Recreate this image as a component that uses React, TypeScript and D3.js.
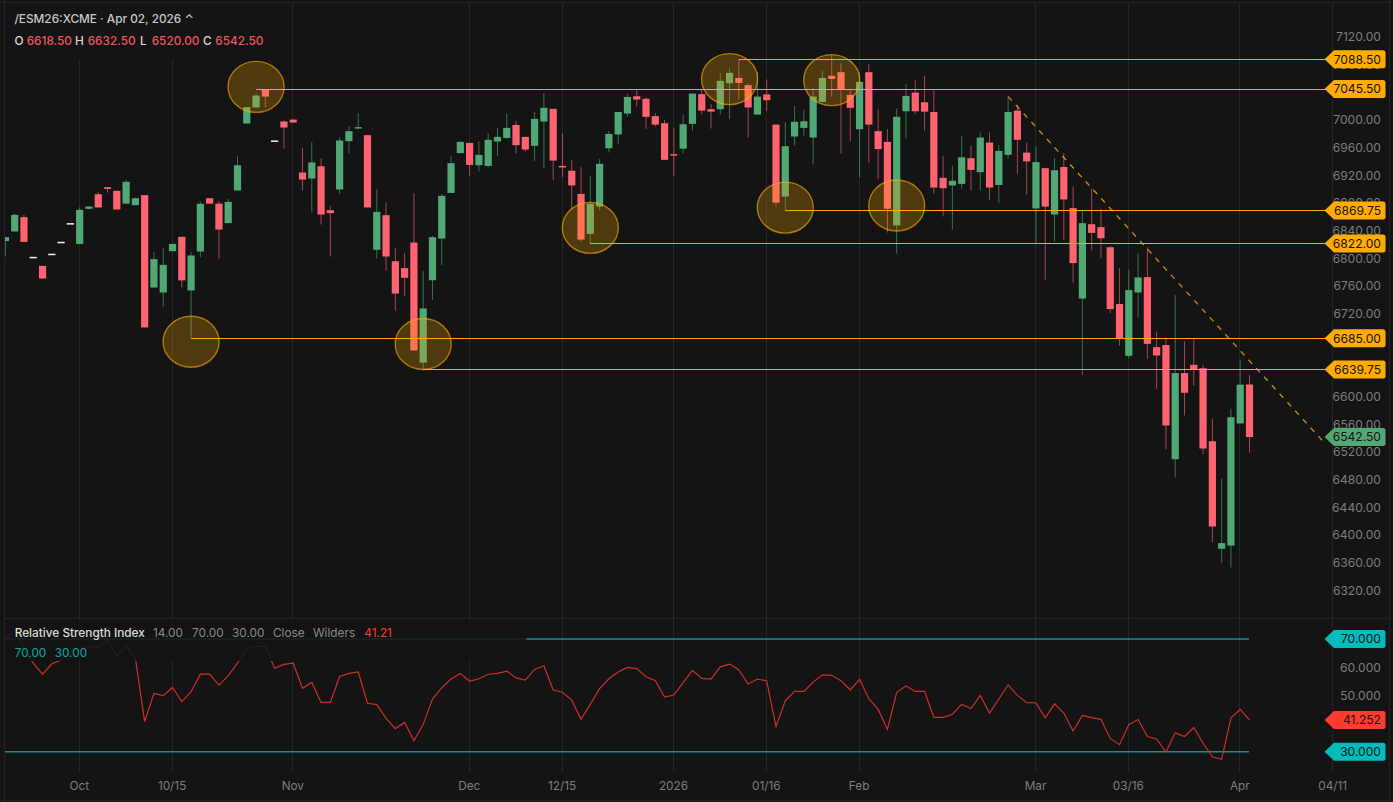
import * as d3 from "d3";

const WIDTH = 1393;
const HEIGHT = 802;

const opens = [
  6825.75, 6839.75, 6860.5, 6802, 6790, 6806.5, 6823.75, 6850.75, 6821.75, 6872.5,
  6893.5, 6903.75, 6898.5, 6880, 6877.75, 6892.25, 6758.75, 6751.5, 6811.25, 6832,
  6754.5, 6810.75, 6887.75, 6880, 6851.75, 6899, 6995.75, 7019, 7045, 6970.25,
  6998.75, 7001.5, 6925, 6916.25, 6934, 6870.5, 6900.5, 6970.25, 6988.5, 6979,
  6813.25, 6863.25, 6796.75, 6786.75, 6823.75, 6650.25, 6769.25, 6829.5, 6895.5, 6953,
  6967.75, 6935.5, 6934.5, 6969.75, 6975, 6993.75, 6976.5, 6963.5, 6998.75, 7017,
  6934.5, 6927.5, 6894, 6836.25, 6875.75, 6960, 6980, 7010.25, 7035.25, 7031.5,
  7006.5, 6996.25, 6951.5, 6959.5, 6995.25, 7038.25, 7016.5, 7016.5, 7054, 7061.75,
  7051.25, 7008.75, 7037.75, 6994.25, 6890.25, 6977, 6989.5, 6975.5, 7027, 7064.75,
  7070, 7037.25, 6987.5, 7070, 6984.75, 6969.25, 6848.5, 7013.5, 7040.5, 7026.5,
  7012.5, 6917.25, 6906.25, 6908.5, 6945.75, 6925.5, 6968.25, 6907, 6950.5, 7014.5,
  6953.75, 6873, 6931.25, 6864.25, 6933, 6873.5, 6742.75, 6850.25, 6846, 6817,
  6735, 6660, 6751.5, 6773.75, 6672.5, 6675.5, 6510.5, 6635, 6647, 6642,
  6536.5, 6381, 6385.75, 6562.25, 6618.5,
];
const highs = [
  6831.5, 6865.25, 6863.75, 6802, 6790, 6806.5, 6823.75, 6850.75, 6874.75, 6875.75,
  6896.5, 6903.75, 6898.5, 6914, 6888.75, 6892.25, 6809.75, 6815.5, 6821.75, 6832,
  6809.75, 6883, 6887.75, 6884, 6886.5, 6949, 7019.5, 7039.5, 7045.5, 6970.25,
  7000, 7001.5, 6961, 6968.75, 6945.75, 6876.75, 6976, 6992, 7010.75, 6979,
  6901, 6882, 6815.5, 6808.5, 6895, 6782.75, 6833.5, 6894, 6949, 6970.25,
  6967.75, 6970.25, 6981.75, 6989, 7010.75, 6999, 6976.5, 7013, 7040, 7017,
  6981.75, 6942.75, 6932.75, 6920.5, 6944.25, 6984.75, 7012.5, 7038.25, 7044.5, 7033.75,
  7010.75, 7001, 6989.5, 7008.25, 7039, 7044.5, 7023.75, 7068.5, 7075.75, 7088.5,
  7054, 7070, 7059.5, 6994.25, 6997.75, 7021.25, 7015.5, 7047.75, 7071.5, 7095,
  7083, 7044.5, 7070, 7081.5, 7016.5, 6988, 7017.5, 7052.5, 7058, 7064.75,
  7044.5, 6949, 6934.5, 6977.5, 6963.5, 6982.75, 6983.25, 6964.5, 7034.75, 7022.75,
  6967.75, 6962.5, 6932.25, 6945.75, 6953, 6904.75, 6869, 6901.75, 6872.5, 6819,
  6786.75, 6784.25, 6808.5, 6817, 6695, 6685.5, 6747.75, 6680.75, 6684, 6647,
  6569, 6482.25, 6583.5, 6654.25, 6632.5,
];
const lows = [
  6803.5, 6839.75, 6824.25, 6802, 6771.75, 6806.5, 6823.75, 6850.75, 6821.75, 6871.5,
  6874.5, 6896, 6871.5, 6880, 6877.75, 6701, 6758.75, 6730.75, 6811.25, 6758.75,
  6685, 6802.5, 6880, 6799.75, 6851.75, 6899, 6995.75, 7019, 7019, 6970.25,
  6959.5, 6997.25, 6899, 6867, 6849.75, 6803.5, 6894, 6952.5, 6988.5, 6874.5,
  6800.5, 6783.25, 6725.5, 6746.25, 6667.75, 6639.75, 6741, 6791.5, 6895.5, 6953,
  6920.5, 6926.5, 6932.25, 6948.5, 6974, 6952.5, 6955.25, 6941.75, 6931.75, 6913.5,
  6918.75, 6871, 6825.25, 6822, 6871, 6954, 6965.5, 7006, 7020.25, 6988,
  6991.5, 6943.25, 6920, 6952.5, 6985.75, 7009.25, 6988.5, 7008.75, 7002, 7030,
  6975.5, 7008.75, 7014, 6875.75, 6869.75, 6964, 6978.5, 6936.5, 7027, 7034.75,
  6952, 6970.25, 6917.75, 6939, 6915.25, 6838.25, 6807.5, 6974.5, 7009.25, 6985.75,
  6894.5, 6861.5, 6842.5, 6901.75, 6899.5, 6899, 6885.5, 6880.5, 6945.25, 6923,
  6892.75, 6821.5, 6769.75, 6825.25, 6827.5, 6766, 6632.5, 6812.25, 6800.75, 6721.75,
  6674.5, 6656.5, 6715.5, 6655.25, 6612.25, 6525, 6484.5, 6573.75, 6617, 6517.5,
  6390.25, 6360.25, 6354, 6562.25, 6520,
];
const closes = [
  6831.5, 6863.75, 6824.75, 6802, 6771.75, 6806.5, 6823.75, 6850.75, 6871, 6875.75,
  6874.5, 6901.25, 6871.5, 6911.5, 6887.75, 6701, 6799.75, 6791.5, 6821.75, 6769,
  6805, 6879.75, 6880, 6842.5, 6882.5, 6935.5, 7019.5, 7036.25, 7034.75, 6970.25,
  6990, 6997.25, 6914.75, 6939.5, 6864.25, 6866.25, 6971.25, 6984.75, 6990.5, 6874.5,
  6868, 6803.5, 6750, 6772.75, 6667.75, 6728.5, 6831.5, 6891.25, 6938.5, 6969.25,
  6936, 6950.5, 6972.25, 6976.5, 6989.5, 6964.5, 6958.25, 7002.5, 7018.5, 6942.25,
  6932.25, 6906.25, 6828, 6879.75, 6937.5, 6980.75, 7012.5, 7034.25, 7030.5, 7005.5,
  6994.25, 6943.25, 6949.5, 6994.75, 7039, 7014.5, 7013, 7057.5, 7069, 7054.5,
  7019, 7034.75, 7029.5, 6881.5, 6963, 6998.25, 6999, 7034.75, 7061.75, 7060.25,
  7045.5, 7018.5, 7056, 6994.25, 6958.75, 6872.5, 7005.5, 7035.75, 7013.5, 7013,
  6903.25, 6902.25, 6913, 6947, 6928.75, 6975.5, 6903.25, 6956.25, 7012.5, 6972.25,
  6941, 6940, 6875.75, 6928.25, 6886, 6794, 6851.75, 6837.75, 6830, 6727.5,
  6685.5, 6755, 6773.25, 6677.25, 6660.5, 6559.25, 6635, 6606.5, 6640.75, 6526,
  6413.25, 6389.25, 6571.25, 6618.25, 6542.5,
];
const rsiValues = [
  70.2, 73.0, 66.7, 61.4, 57.5, 61.2, 62.5, 65.5, 66.9, 67.5,
  67.0, 69.8, 63.8, 67.5, 63.1, 40.7, 50.7, 49.9, 52.8, 47.8,
  51.3, 57.5, 57.5, 53.6, 57.0, 61.4, 66.4, 67.4, 67.4, 59.6,
  61.0, 61.4, 52.5, 54.6, 47.5, 47.5, 56.7, 57.8, 58.3, 47.2,
  46.7, 41.8, 38.2, 40.4, 33.9, 39.7, 48.7, 52.7, 55.8, 57.8,
  55.0, 55.9, 57.5, 57.8, 58.6, 56.2, 55.4, 59.2, 60.5, 51.9,
  51.1, 48.3, 41.5, 46.9, 52.4, 55.9, 58.3, 59.9, 59.5, 56.6,
  55.2, 49.4, 50.1, 54.5, 58.9, 56.0, 55.8, 60.1, 61.1, 59.0,
  54.0, 55.8, 55.1, 38.9, 48.1, 51.4, 51.4, 54.7, 57.3, 57.1,
  55.2, 51.9, 55.7, 48.8, 45.0, 37.9, 51.1, 53.3, 51.4, 51.4,
  42.2, 42.2, 43.3, 46.8, 45.3, 50.0, 43.7, 48.7, 53.7, 50.0,
  47.4, 47.3, 42.0, 47.0, 43.7, 37.3, 42.9, 42.1, 41.5, 34.7,
  32.5, 39.6, 41.4, 35.4, 34.5, 29.9, 36.7, 35.4, 38.6, 33.0,
  28.2, 27.3, 42.0, 45.0, 41.25,
];

const priceTicks = [
  7120, 7080, 7040, 7000, 6960, 6920, 6880, 6840, 6800, 6760, 6720, 6680, 6640, 6600,
  6560, 6520, 6480, 6440, 6400, 6360, 6320,
];
const rsiTicks = [60, 50];
const rsiBands = [70, 30];

const timeLabels = ["Oct", "10/15", "Nov", "Dec", "12/15", "2026", "01/16", "Feb", "Mar", "03/16", "Apr", "04/11"];
const timeBars = [8, 18, 31, 50, 60, 72, 82, 92, 111, 121, 133, 143];

// horizontal levels, each one starts at the bar it was drawn from
const levelPrices = [7088.5, 7045.5, 6869.75, 6822, 6685, 6639.75];
const levelBars = [79, 27, 84, 63, 20, 45];

// highlighted pivots
const pivotBars = [27, 20, 45, 78, 89, 84, 63, 96];
const pivotPrices = [7048.75, 6680.25, 6677, 7060, 7058.5, 6874.25, 6845, 6877.25];

const trendBars = [108, 142];
const trendPrices = [7034.75, 6535.25];

const UP = "#50a874";
const DOWN = "#ff636f";
const ORANGE = "#ffab00";
const TEAL = "#00bcbc";
const BG = "#141414";
const GRID = "#262626";
const FRAME = "#232323";
const FONT = "Inter, 'Noto Sans', sans-serif";

const x = d3.scaleLinear().domain([0, 134]).range([5.4, 1249.5]);
const y = d3.scaleLinear().domain([7120, 6320]).range([37.6, 591]);
const yRsi = d3.scaleLinear().domain([70, 30]).range([639, 751.7]);

const rsiLine = d3
  .line<number>()
  .x((_, i) => x(i))
  .y((d) => yRsi(d));

// label with the arrow pointing left, like the ones on the price scale
function tagPath(cy: number) {
  const l = 1324.5, m = 1334, r = 1385.5, h = 9, c = 2.5;
  return `M${l},${cy} L${m},${cy - h} H${r - c} Q${r},${cy - h} ${r},${cy - h + c} V${cy + h - c} Q${r},${cy + h} ${r - c},${cy + h} H${m} Z`;
}

function Tag({ cy, fill, text }: { cy: number; fill: string; text: string }) {
  return (
    <g>
      <path d={tagPath(cy)} fill={fill} />
      <text x={1381} y={cy} dy="0.36em" textAnchor="end" fontSize={12.1} fill="#141414">
        {text}
      </text>
    </g>
  );
}

export default function App() {
  const fmt = d3.format(".2f");
  const fmt3 = d3.format(".3f");
  const bodyW = 7.2;

  return (
    <svg
      width={WIDTH}
      height={HEIGHT}
      style={{ position: "absolute", left: 0, top: 0, display: "block" }}
      fontFamily={FONT}
    >
      <defs>
        <clipPath id="plot">
          <rect x={5} y={3} width={1385} height={797} />
        </clipPath>
      </defs>
      <rect width={WIDTH} height={HEIGHT} fill={BG} />

      {/* pane frame */}
      <g stroke={FRAME} fill="none">
        <line x1={0} x2={WIDTH} y1={2.5} y2={2.5} />
        <line x1={5} x2={1389} y1={618.5} y2={618.5} />
        <line x1={0} x2={WIDTH} y1={800.5} y2={800.5} />
        <line x1={4.5} x2={4.5} y1={0} y2={HEIGHT} />
        <line x1={1389.5} x2={1389.5} y1={0} y2={HEIGHT} />
      </g>

      {/* vertical grid */}
      {timeBars.map((b) => (
        <line
          key={b}
          x1={Math.floor(x(b) - 0.4) + 0.5}
          x2={Math.floor(x(b) - 0.4) + 0.5}
          y1={3}
          y2={772}
          stroke={GRID}
        />
      ))}

      {/* header covers the grid */}
      <rect x={5} y={3} width={268} height={56} fill={BG} />

      <g clipPath="url(#plot)">
        {opens.map((o, i) => {
          const c = closes[i];
          const flat = o === c;
          const color = c > o ? UP : DOWN;
          if (flat) {
            return (
              <rect key={i} x={x(i) - 3.6} y={y(o) - 0.75} width={7.2} height={1.5} fill="#f2f2f2" />
            );
          }
          return (
            <g key={i}>
              <line x1={x(i)} x2={x(i)} y1={y(highs[i])} y2={y(lows[i])} stroke={color} strokeOpacity={0.62} />
              <rect
                x={x(i) - bodyW / 2}
                y={y(Math.max(o, c))}
                width={bodyW}
                height={Math.max(1.2, Math.abs(y(o) - y(c)))}
                fill={color}
              />
            </g>
          );
        })}
      </g>

      {/* drawn levels */}
      {levelPrices.map((p, i) => (
        <line
          key={p}
          x1={x(levelBars[i])}
          x2={1326}
          y1={Math.floor(y(p)) + 0.5}
          y2={Math.floor(y(p)) + 0.5}
          stroke={ORANGE}
        />
      ))}

      {pivotBars.map((b, i) => (
        <ellipse
          key={b}
          cx={x(b)}
          cy={y(pivotPrices[i])}
          rx={28}
          ry={25.5}
          fill={ORANGE}
          fillOpacity={0.25}
          stroke={ORANGE}
          strokeOpacity={0.62}
          strokeWidth={1.4}
        />
      ))}

      <line
        x1={x(trendBars[0])}
        y1={y(trendPrices[0])}
        x2={x(trendBars[1])}
        y2={y(trendPrices[1])}
        stroke={ORANGE}
        strokeOpacity={0.8}
        strokeWidth={1.3}
        strokeDasharray="5.5 6"
      />

      {/* rsi pane */}
      {rsiBands.map((v) => (
        <line key={v} x1={5} x2={1249} y1={yRsi(v)} y2={yRsi(v)} stroke="#1b8b8b" strokeWidth={1.5} />
      ))}
      <g clipPath="url(#plot)">
        <path d={rsiLine(rsiValues) ?? ""} fill="none" stroke="#cc2f28" strokeWidth={1.2} />
      </g>
      <rect x={5} y={620} width={521} height={41} fill={BG} fillOpacity={0.86} />

      {/* price scale */}
      <g fontSize={12.1} fill="#7d7d7d" textAnchor="end">
        {priceTicks.map((t) => (
          <text key={t} x={1381} y={y(t) - 0.6} dy="0.36em">
            {fmt(t)}
          </text>
        ))}
        {rsiTicks.map((t) => (
          <text key={t} x={1381} y={yRsi(t)} dy="0.36em">
            {fmt3(t)}
          </text>
        ))}
      </g>

      {levelPrices.map((p) => (
        <Tag key={p} cy={y(p) - 0.2} fill={ORANGE} text={fmt(p)} />
      ))}
      <Tag cy={y(closes[134])} fill={UP} text={fmt(closes[134])} />
      {rsiBands.map((v) => (
        <Tag key={v} cy={yRsi(v)} fill={TEAL} text={fmt3(v)} />
      ))}
      <Tag cy={yRsi(41.252)} fill="#ff3b2f" text="41.252" />

      {/* time axis */}
      <g fontSize={11.8} fill="#7d7d7d" textAnchor="middle">
        {timeLabels.map((t, i) => (
          <text key={t} x={x(timeBars[i]) - 0.4} y={785.7} dy="0.36em">
            {t}
          </text>
        ))}
      </g>

      {/* legends */}
      <g fontSize={11.8} dominantBaseline="central">
        <text x={14.5} y={18.7} fill="#c8c8c8" fontWeight={500}>
          /ESM26:XCME · Apr 02, 2026 ⌃
        </text>
        <g fontWeight={500} fill="#d8d8d8">
          <text x={14.5} y={40.5}>O</text>
          <text x={75} y={40.5}>H</text>
          <text x={140} y={40.5}>L</text>
          <text x={203} y={40.5}>C</text>
        </g>
        <g fill="#f0565f" fontWeight={500}>
          <text x={26.7} y={40.5}>{fmt(opens[134])}</text>
          <text x={87.7} y={40.5}>{fmt(highs[134])}</text>
          <text x={151.7} y={40.5}>{fmt(lows[134])}</text>
          <text x={215.3} y={40.5}>{fmt(closes[134])}</text>
        </g>
        <text x={14.7} y={632.5} fill="#dcdcdc" fontWeight={500}>
          Relative Strength Index
        </text>
        <g fill="#8a8a8a">
          <text x={153} y={632.5}>14.00</text>
          <text x={192} y={632.5}>70.00</text>
          <text x={232} y={632.5}>30.00</text>
          <text x={273} y={632.5}>Close</text>
          <text x={313} y={632.5}>Wilders</text>
        </g>
        <text x={364.3} y={632.5} fill="#ff3b2f">41.21</text>
        <text x={14.7} y={652.5} fill="#00a9a9">70.00</text>
        <text x={54.7} y={652.5} fill="#00a9a9">30.00</text>
      </g>
    </svg>
  );
}
